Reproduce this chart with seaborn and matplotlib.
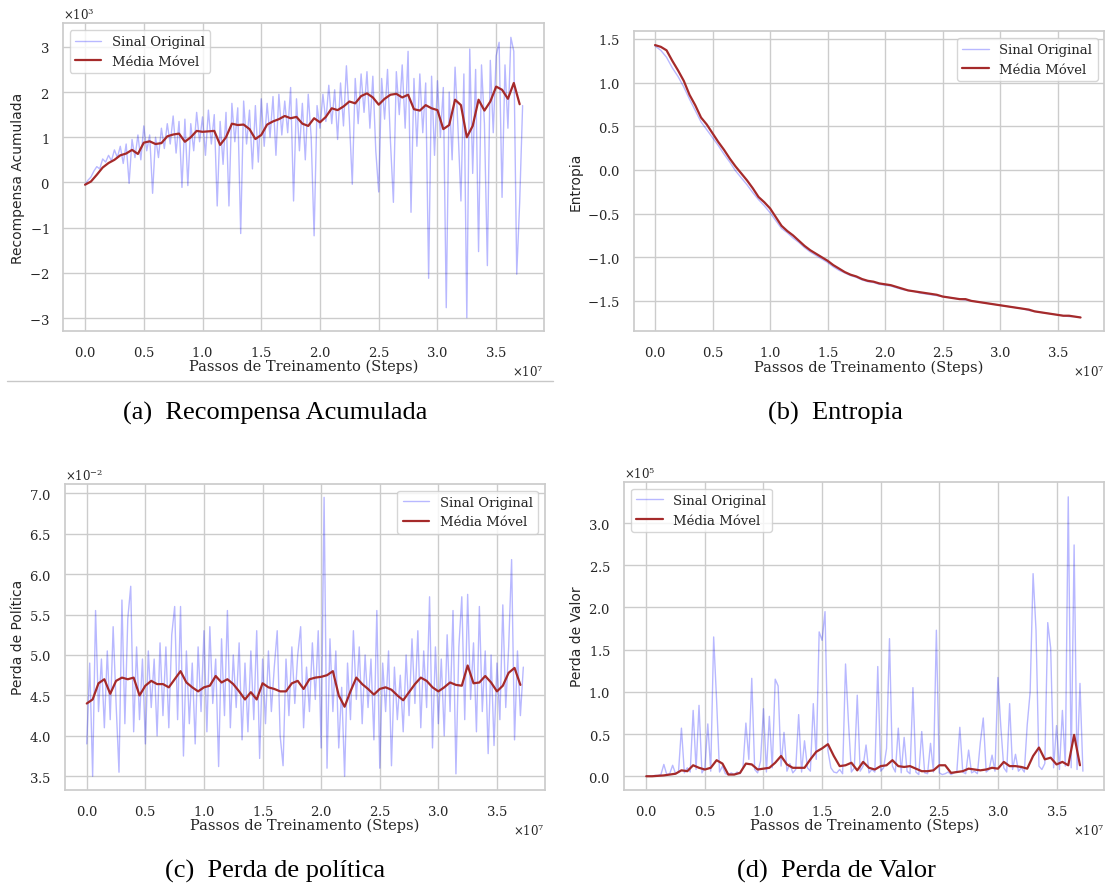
import numpy as np
import matplotlib
matplotlib.use("Agg")
import matplotlib.pyplot as plt
from matplotlib.lines import Line2D
import seaborn as sns

# training steps: raw signal every 2.5e5 steps, moving average every 5e5 steps
steps_raw = np.arange(150) * 250_000
steps_ma = np.arange(75) * 500_000

# (a) cumulative reward, in units of 1e3
reward_raw = np.array([
    -0.05, 0.05, 0.12, 0.25, 0.35, 0.30, 0.52, 0.45, 0.60, 0.48,
    0.72, 0.55, 0.80, 0.42, 0.85, -0.02, 0.95, 0.55, 1.05, 0.50,
    1.25, 0.70, 1.05, -0.24, 1.00, 0.55, 1.20, 0.75, 1.30, 0.85,
    1.47, 0.65, 1.35, -0.11, 1.40, -0.07, 1.30, 0.70, 1.55, 0.90,
    1.45, 0.60, 1.60, 0.85, 1.50, -0.52, 1.35, 0.40, 1.55, -0.52,
    1.75, 0.90, 1.65, -1.13, 1.80, 0.85, 1.60, 0.30, 1.70, 0.45,
    1.85, 0.80, 1.75, 1.00, 1.90, 0.60, 1.95, 1.05, 1.80, 1.10,
    2.10, -0.41, 1.85, 0.70, 1.75, 0.50, 1.95, 1.00, -1.18, 1.70,
    1.20, 1.95, 1.35, 2.15, 1.30, 2.05, 0.95, 2.20, 1.25, 2.58,
    1.40, -0.04, 2.30, 1.30, 2.40, 1.55, 2.45, 1.20, 2.35, 0.70,
    -0.21, 2.30, 1.40, 2.50, 0.90, -0.44, 2.45, 1.50, 2.60, 1.20,
    2.90, -0.66, 2.30, 0.80, 2.40, 1.10, 2.20, -2.12, 2.35, 0.60,
    2.25, 1.00, 2.10, -2.77, 2.00, 0.50, 2.55, 1.20, -0.41, 2.40,
    -2.99, 2.95, 0.20, 2.50, -1.53, 2.60, 1.30, -1.84, 2.70, 1.10,
    2.80, 3.10, -0.33, 2.60, 1.20, 3.21, 2.90, -2.03, -0.44, 1.70,
]) * 1e3
reward_ma = np.array([
    -0.05, 0.02, 0.17, 0.33, 0.43, 0.50, 0.60, 0.64, 0.72, 0.63,
    0.88, 0.91, 0.85, 0.87, 1.02, 1.06, 1.08, 0.90, 1.00, 1.14,
    1.12, 1.13, 1.14, 0.83, 1.00, 1.30, 1.27, 1.28, 1.18, 0.96,
    1.05, 1.28, 1.35, 1.40, 1.47, 1.42, 1.45, 1.30, 1.25, 1.42,
    1.33, 1.45, 1.64, 1.60, 1.68, 1.79, 1.75, 1.91, 1.97, 1.88,
    1.72, 1.85, 1.94, 1.96, 1.88, 1.94, 1.62, 1.59, 1.71, 1.64,
    1.60, 1.18, 1.27, 1.83, 1.71, 1.00, 1.25, 1.83, 1.59, 1.79,
    2.12, 2.05, 1.85, 2.20, 1.73,
]) * 1e3

# (b) entropy
entropy_raw = np.array([
    1.42, 1.37, 1.29, 1.17, 1.07, 0.95, 0.81, 0.68, 0.55, 0.46,
    0.37, 0.28, 0.18, 0.09, -0.01, -0.09, -0.17, -0.26, -0.34, -0.41,
    -0.49, -0.58, -0.67, -0.72, -0.78, -0.83, -0.89, -0.94, -0.98, -1.02,
    -1.06, -1.11, -1.15, -1.18, -1.21, -1.23, -1.26, -1.28, -1.29, -1.31,
    -1.32, -1.33, -1.35, -1.37, -1.38, -1.39, -1.41, -1.42, -1.43, -1.44,
    -1.45, -1.46, -1.47, -1.48, -1.49, -1.50, -1.51, -1.52, -1.53, -1.54,
    -1.55, -1.56, -1.57, -1.58, -1.59, -1.61, -1.62, -1.63, -1.64, -1.65,
    -1.66, -1.67, -1.68, -1.68, -1.69,
])
entropy_ma = np.array([
    1.43, 1.41, 1.37, 1.25, 1.14, 1.02, 0.86, 0.74, 0.60, 0.52,
    0.42, 0.32, 0.23, 0.13, 0.04, -0.04, -0.12, -0.21, -0.31, -0.37,
    -0.44, -0.54, -0.64, -0.70, -0.75, -0.81, -0.87, -0.92, -0.96, -1.00,
    -1.04, -1.09, -1.13, -1.17, -1.20, -1.22, -1.25, -1.27, -1.28, -1.30,
    -1.31, -1.32, -1.34, -1.36, -1.38, -1.39, -1.40, -1.41, -1.42, -1.43,
    -1.45, -1.46, -1.47, -1.48, -1.48, -1.50, -1.51, -1.52, -1.53, -1.54,
    -1.55, -1.56, -1.57, -1.58, -1.59, -1.60, -1.62, -1.63, -1.64, -1.65,
    -1.66, -1.67, -1.67, -1.68, -1.69,
])

# (c) policy loss, in units of 1e-2
policy_raw = np.array([
    3.90, 4.90, 3.50, 5.55, 4.30, 4.95, 4.10, 5.05, 4.20, 5.35,
    4.40, 3.55, 5.68, 4.15, 5.45, 5.85, 4.05, 5.10, 4.20, 4.95,
    3.90, 5.05, 4.35, 4.95, 4.00, 5.15, 4.25, 5.10, 4.10, 5.25,
    5.60, 4.20, 5.60, 3.75, 5.05, 4.15, 4.90, 3.90, 5.10, 4.30,
    5.30, 4.05, 5.35, 4.40, 4.95, 3.62, 5.20, 4.25, 5.55, 4.10,
    5.00, 4.35, 5.15, 3.95, 4.90, 4.05, 5.05, 4.20, 5.30, 3.72,
    4.95, 4.15, 5.05, 4.30, 4.85, 5.30, 4.00, 3.63, 4.95, 4.25,
    5.10, 4.40, 5.00, 5.35, 4.10, 4.85, 4.30, 5.15, 4.45, 5.30,
    3.85, 6.95, 3.60, 5.20, 4.30, 5.05, 3.85, 4.60, 3.50, 4.90,
    4.20, 5.30, 4.45, 5.10, 4.15, 5.00, 4.35, 4.95, 3.95, 5.55,
    3.60, 4.90, 4.30, 5.05, 3.63, 4.85, 4.20, 4.75, 4.05, 5.00,
    4.25, 5.20, 4.40, 5.30, 4.10, 5.05, 4.35, 5.72, 3.85, 5.10,
    4.15, 4.95, 4.00, 5.25, 4.30, 5.55, 3.53, 5.10, 5.72, 4.20,
    5.75, 4.45, 5.15, 4.05, 5.60, 4.30, 5.05, 3.78, 5.00, 3.88,
    4.90, 4.20, 5.62, 4.35, 5.10, 6.18, 3.95, 5.05, 4.25, 4.85,
]) * 1e-2
policy_ma = np.array([
    4.40, 4.45, 4.65, 4.70, 4.52, 4.68, 4.72, 4.70, 4.72, 4.50,
    4.62, 4.68, 4.64, 4.64, 4.60, 4.70, 4.80, 4.66, 4.60, 4.55,
    4.60, 4.62, 4.74, 4.66, 4.70, 4.64, 4.55, 4.45, 4.54, 4.45,
    4.65, 4.60, 4.58, 4.55, 4.55, 4.65, 4.68, 4.58, 4.70, 4.72,
    4.73, 4.75, 4.80, 4.50, 4.36, 4.55, 4.72, 4.64, 4.58, 4.51,
    4.58, 4.60, 4.57, 4.50, 4.44, 4.54, 4.64, 4.72, 4.68, 4.60,
    4.55, 4.60, 4.66, 4.63, 4.62, 4.87, 4.65, 4.66, 4.74, 4.66,
    4.55, 4.62, 4.78, 4.84, 4.63,
]) * 1e-2

# (d) value loss, in units of 1e5
value_raw = np.array([
    0.00, 0.00, 0.00, 0.01, 0.01, 0.02, 0.14, 0.02, 0.03, 0.13,
    0.03, 0.05, 0.57, 0.04, 0.10, 0.05, 0.78, 0.08, 0.84, 0.04,
    0.10, 0.62, 0.06, 1.65, 0.90, 0.05, 0.12, 0.03, 0.02, 0.04,
    0.02, 0.05, 0.03, 0.10, 0.63, 0.20, 1.16, 0.08, 0.04, 0.18,
    0.80, 0.05, 0.71, 0.10, 1.15, 1.07, 0.12, 0.52, 0.06, 0.15,
    0.04, 0.08, 0.73, 0.05, 0.42, 0.10, 0.06, 0.86, 0.20, 1.71,
    1.61, 1.95, 0.30, 0.10, 0.05, 0.04, 0.08, 0.03, 1.33, 0.64,
    0.05, 0.10, 0.96, 0.06, 0.12, 0.37, 0.04, 0.08, 0.05, 1.30,
    0.06, 0.10, 0.33, 1.63, 0.12, 0.05, 0.57, 0.04, 0.46, 0.06,
    0.03, 1.05, 0.05, 0.02, 0.53, 0.04, 0.03, 0.39, 0.05, 1.73,
    0.04, 0.02, 0.03, 0.05, 0.02, 0.04, 0.06, 0.58, 0.05, 0.03,
    0.31, 0.04, 0.06, 0.03, 0.40, 0.69, 0.05, 0.08, 0.25, 0.06,
    1.17, 0.58, 0.10, 0.05, 0.86, 0.08, 0.26, 0.06, 0.10, 0.05,
    0.61, 1.00, 2.40, 1.73, 0.12, 0.08, 0.15, 1.82, 1.52, 0.10,
    0.60, 0.08, 0.78, 0.12, 3.31, 0.10, 2.74, 0.08, 1.10, 0.06,
]) * 1e5
value_ma = np.array([
    0.00, 0.00, 0.005, 0.01, 0.02, 0.03, 0.07, 0.06, 0.13, 0.10,
    0.08, 0.10, 0.19, 0.15, 0.02, 0.02, 0.04, 0.15, 0.14, 0.08,
    0.09, 0.10, 0.16, 0.24, 0.14, 0.10, 0.10, 0.10, 0.20, 0.29,
    0.33, 0.38, 0.24, 0.12, 0.13, 0.16, 0.07, 0.17, 0.10, 0.08,
    0.12, 0.13, 0.19, 0.12, 0.11, 0.12, 0.09, 0.06, 0.06, 0.07,
    0.13, 0.13, 0.04, 0.05, 0.06, 0.09, 0.08, 0.07, 0.08, 0.10,
    0.09, 0.17, 0.12, 0.12, 0.11, 0.09, 0.24, 0.34, 0.20, 0.22,
    0.14, 0.17, 0.13, 0.49, 0.13,
]) * 1e5

panels = [
    ("Recompensa Acumulada", steps_raw, reward_raw, reward_ma, "upper left",
     (-3.28e3, 3.52e3), [0.0571, 0.6260, 0.4342, 0.3466], "(a)  Recompensa Acumulada", (0.2484, 0.5344)),
    ("Entropia", steps_ma, entropy_raw, entropy_ma, "upper right",
     (-1.848, 1.588), [0.5724, 0.6254, 0.4251, 0.3382], "(b)  Entropia", (0.7543, 0.5344)),
    ("Perda de Política", steps_raw, policy_raw, policy_ma, "upper right",
     (3.334e-2, 7.115e-2), [0.0587, 0.1086, 0.4332, 0.3446], "(c)  Perda de política", (0.2488, 0.0173)),
    ("Perda de Valor", steps_raw, value_raw, value_ma, "upper left",
     (-0.159e5, 3.483e5), [0.5641, 0.1086, 0.4333, 0.3466], "(d)  Perda de Valor", (0.7552, 0.0173)),
]

sns.set_theme(style="whitegrid")
plt.rcParams["font.family"] = ["DejaVu Serif"]
plt.rcParams["mathtext.fontset"] = "dejavuserif"

fig = plt.figure(figsize=(11.07, 8.87), dpi=100)

for ylabel, x_raw, y_raw, y_ma, loc, ylim, rect, caption, cpos in panels:
    ax = fig.add_axes(rect)
    sns.lineplot(x=x_raw, y=y_raw, ax=ax, color="blue", alpha=0.28, linewidth=1,
                 label="Sinal Original", estimator=None, sort=False)
    sns.lineplot(x=steps_ma, y=y_ma, ax=ax, color="brown", linewidth=1.6,
                 label="Média Móvel", estimator=None, sort=False)
    ax.set_xlim(-0.186e7, 3.906e7)
    ax.set_ylim(*ylim)
    ax.ticklabel_format(style="sci", axis="both", scilimits=(0, 0), useMathText=True)
    ax.tick_params(labelsize=9.5, pad=4)
    ax.xaxis.get_offset_text().set_fontsize(8.5)
    ax.yaxis.get_offset_text().set_fontsize(8.5)
    ax.set_xlabel("Passos de Treinamento (Steps)", fontsize=10.5, labelpad=0)
    ax.set_ylabel(ylabel, fontsize=10, family="DejaVu Sans", labelpad=3)
    ax.legend(loc=loc, fontsize=9.5)
    fig.text(cpos[0], cpos[1], caption, ha="center", va="center",
             fontsize=19, family="Liberation Serif", color="black")

fig.add_artist(Line2D([7 / 1107, 553 / 1107], [1 - 382 / 887, 1 - 382 / 887],
                      transform=fig.transFigure, color="#c8c8c8", linewidth=1))

fig.savefig("out.png", dpi=100)
